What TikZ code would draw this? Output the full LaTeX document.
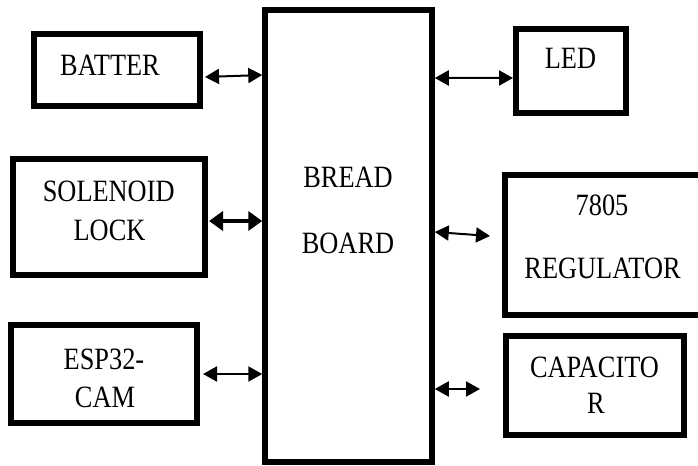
\documentclass[tikz,border=0pt]{standalone}
\usepackage{fontspec}
\setmainfont{Liberation Serif}[FakeStretch=0.85]
\usetikzlibrary{arrows.meta}
\begin{document}
\begin{tikzpicture}[x=1bp,y=-1bp,
  blk/.style={draw=black, line width=6bp, rectangle, inner sep=0pt, fill=white},
  lbl/.style={inner sep=0pt, font=\fontsize{31bp}{33bp}\selectfont},
  arr/.style={line width=2bp, {Triangle[length=14bp,width=15bp]}-{Triangle[length=14bp,width=15bp]}},
  tarr/.style={line width=4.5bp, {Triangle[length=14bp,width=19bp]}-{Triangle[length=14bp,width=19bp]}}]
\useasboundingbox (0,0) rectangle (698,466);
\clip (0,0) rectangle (698,466);
% boxes
\node[blk, line width=5.5bp, minimum width=167bp, minimum height=452bp] (bb) at (348.5,236) {};
\node[blk, minimum width=166bp, minimum height=72bp] (batt) at (117,70) {};
\node[blk, minimum width=110bp, minimum height=84bp] (led) at (571,71) {};
\node[blk, minimum width=192bp, minimum height=116bp] (sol) at (109,217) {};
\node[blk, minimum width=200bp, minimum height=140bp] (reg) at (605,245) {};
\node[blk, minimum width=186bp, minimum height=98bp] (esp) at (104,374) {};
\node[blk, minimum width=178bp, minimum height=99bp] (cap) at (595,385.5) {};
% labels
\node[lbl] (bbt1) at (348,177) {BREAD};
\node[lbl] (bbt2) at (348,243) {BOARD};
\node[lbl] (battt) at (110,65.5) {BATTER};
\node[lbl] (ledt) at (570.5,58) {LED};
\node[lbl] (solt1) at (108.7,191) {SOLENOID};
\node[lbl] (solt2) at (109.5,230.5) {LOCK};
\node[lbl] (regt1) at (602,205) {7805};
\node[lbl] (regt2) at (602.5,268) {REGULATOR};
\node[lbl] (espt1) at (104,359) {ESP32-};
\node[lbl] (espt2) at (105,397.5) {CAM};
\node[lbl] (capt1) at (594.5,367) {CAPACITO};
\node[lbl] (capt2) at (596,403) {R};
% connectors
\coordinate (regend) at (490,236);
\coordinate (capend) at (480,389);
\draw[arr] ([xshift=2bp,yshift=-7bp]batt.east) -- ([yshift=-5bp]batt.east -| bb.west);
\draw[tarr] ([xshift=1bp,yshift=-4bp]sol.east) -- ([yshift=-4bp]sol.east -| bb.west);
\draw[arr] ([xshift=3bp]esp.east) -- (esp.east -| bb.west);
\draw[arr] (bb.east |- led.west) ++(0,7) -- ([yshift=-7bp]led.west);
\draw[arr] (bb.east |- regend) ++(0,-4) -- (regend);
\draw[arr] (bb.east |- capend) -- (capend);
\end{tikzpicture}
\end{document}
